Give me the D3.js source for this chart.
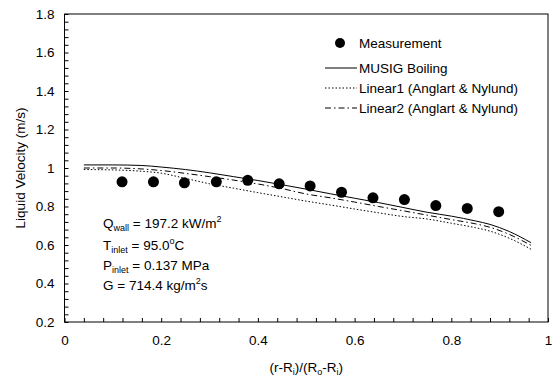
<!DOCTYPE html>
<html>
<head>
<meta charset="utf-8">
<script src="https://cdn.jsdelivr.net/npm/d3@7"></script>
<style>
  body { margin: 0; background: #fff; }
  svg { font-family: "Liberation Sans", Arial, sans-serif; }
</style>
</head>
<body>
<div id="chart"></div>
<script>
// Measurement points
const measX = [0.119, 0.184, 0.248, 0.314, 0.379, 0.444, 0.508, 0.573, 0.638, 0.703, 0.768, 0.833, 0.898];
const measY = [0.928, 0.928, 0.923, 0.928, 0.936, 0.918, 0.907, 0.874, 0.845, 0.836, 0.805, 0.79, 0.773];

// Model curves share the same radial positions
const curveX = [0.04, 0.10, 0.16, 0.20, 0.25, 0.30, 0.35, 0.40, 0.45, 0.50, 0.55, 0.60, 0.65, 0.70, 0.75, 0.80, 0.85, 0.88, 0.92, 0.965];
const musig   = [1.016, 1.016, 1.013, 1.005, 0.992, 0.975, 0.955, 0.935, 0.913, 0.89, 0.866, 0.843, 0.82, 0.795, 0.77, 0.75, 0.725, 0.707, 0.67, 0.612];
const linear1 = [0.992, 0.99, 0.983, 0.973, 0.946, 0.918, 0.895, 0.872, 0.85, 0.828, 0.808, 0.787, 0.767, 0.748, 0.735, 0.713, 0.69, 0.672, 0.635, 0.578];
const linear2 = [1.0, 1.0, 0.995, 0.987, 0.972, 0.955, 0.937, 0.917, 0.893, 0.865, 0.845, 0.823, 0.8, 0.778, 0.755, 0.732, 0.71, 0.692, 0.655, 0.598];

const legendLabels = ["Measurement", "MUSIG Boiling", "Linear1 (Anglart & Nylund)", "Linear2 (Anglart & Nylund)"];
const xTicks = [0, 0.2, 0.4, 0.6, 0.8, 1];
const yTicks = [0.2, 0.4, 0.6, 0.8, 1, 1.2, 1.4, 1.6, 1.8];

const W = 555, H = 376;
const margin = {top: 14, right: 7, bottom: 54, left: 64.5};
const fs = 13.5, small = 9;

const svg = d3.select("#chart").append("svg")
  .attr("width", W).attr("height", H);

const x = d3.scaleLinear().domain([0, 1]).range([margin.left, W - margin.right]);
const y = d3.scaleLinear().domain([0.2, 1.8]).range([H - margin.bottom, margin.top]);

// frame
svg.append("rect")
  .attr("x", x(0)).attr("y", y(1.8))
  .attr("width", x(1) - x(0)).attr("height", y(0.2) - y(1.8))
  .attr("fill", "none").attr("stroke", "#000").attr("stroke-width", 1);

// minor + major ticks, pointing inward
const minor = d3.range(0, 1.0001, 0.04);
svg.append("g")
  .attr("transform", "translate(0," + y(0.2) + ")")
  .call(d3.axisTop(x).tickValues(minor).tickSize(4).tickFormat(""))
  .call(g => g.select(".domain").remove());
svg.append("g")
  .attr("transform", "translate(0," + y(0.2) + ")")
  .call(d3.axisBottom(x).tickValues(xTicks).tickSize(0).tickPadding(13).tickFormat(d3.format("")))
  .call(g => g.select(".domain").remove())
  .selectAll("text").attr("font-size", fs).attr("font-family", "Liberation Sans, Arial");

const minorY = d3.range(0.2, 1.8001, 0.04);
svg.append("g")
  .attr("transform", "translate(" + x(0) + ",0)")
  .call(d3.axisRight(y).tickValues(minorY).tickSize(4).tickFormat(""))
  .call(g => g.select(".domain").remove());
svg.append("g")
  .attr("transform", "translate(" + x(0) + ",0)")
  .call(d3.axisLeft(y).tickValues(yTicks).tickSize(0).tickPadding(10).tickFormat(d3.format("")))
  .call(g => g.select(".domain").remove())
  .selectAll("text").attr("font-size", fs).attr("font-family", "Liberation Sans, Arial");

// curves
const line = d3.line().x(d => x(d[0])).y(d => y(d[1])).curve(d3.curveMonotoneX);
const series = [
  {vals: musig, dash: null},
  {vals: linear1, dash: "1.5,2"},
  {vals: linear2, dash: "6,3,1.5,3"}
];
series.forEach(s => {
  svg.append("path")
    .datum(curveX.map((v, i) => [v, s.vals[i]]))
    .attr("d", line)
    .attr("fill", "none")
    .attr("stroke", "#000")
    .attr("stroke-width", 1)
    .attr("stroke-dasharray", s.dash);
});

// measurement points
svg.selectAll("circle.meas")
  .data(measX.map((v, i) => [v, measY[i]]))
  .join("circle").attr("class", "meas")
  .attr("cx", d => x(d[0])).attr("cy", d => y(d[1]))
  .attr("r", 5.5).attr("fill", "#000");

// legend
const lg = svg.append("g").attr("font-size", fs);
const legY = [43, 68, 88, 108];
lg.append("circle").attr("cx", 340).attr("cy", legY[0]).attr("r", 5).attr("fill", "#000");
series.forEach((s, i) => {
  lg.append("line")
    .attr("x1", 325).attr("x2", 357)
    .attr("y1", legY[i + 1]).attr("y2", legY[i + 1])
    .attr("stroke", "#000").attr("stroke-dasharray", s.dash);
});
legendLabels.forEach((t, i) => {
  lg.append("text").attr("x", 359).attr("y", legY[i] + 5).text(t);
});

// annotation
const ann = svg.append("g").attr("font-size", fs);
const ax = 103;
let t = ann.append("text").attr("x", ax).attr("y", 228);
t.append("tspan").text("Q");
t.append("tspan").attr("font-size", small).attr("dy", 3).text("wall");
t.append("tspan").attr("dy", -3).text(" = 197.2 kW/m");
t.append("tspan").attr("font-size", small).attr("dy", -6).text("2");

t = ann.append("text").attr("x", ax).attr("y", 250);
t.append("tspan").text("T");
t.append("tspan").attr("font-size", small).attr("dy", 3).text("inlet");
t.append("tspan").attr("dy", -3).text(" = 95.0");
t.append("tspan").attr("font-size", small).attr("dy", -6).text("o");
t.append("tspan").attr("dy", 6).text("C");

t = ann.append("text").attr("x", ax).attr("y", 270);
t.append("tspan").text("P");
t.append("tspan").attr("font-size", small).attr("dy", 3).text("inlet");
t.append("tspan").attr("dy", -3).text(" = 0.137 MPa");

t = ann.append("text").attr("x", ax).attr("y", 290);
t.append("tspan").text("G = 714.4 kg/m");
t.append("tspan").attr("font-size", small).attr("dy", -6).text("2");
t.append("tspan").attr("dy", 6).text("s");

// axis titles
t = svg.append("text").attr("font-size", fs).attr("text-anchor", "middle")
  .attr("x", (x(0) + x(1)) / 2).attr("y", 372);
t.append("tspan").text("(r-R");
t.append("tspan").attr("font-size", small).attr("dy", 3).text("i");
t.append("tspan").attr("dy", -3).text(")/(R");
t.append("tspan").attr("font-size", small).attr("dy", 3).text("o");
t.append("tspan").attr("dy", -3).text("-R");
t.append("tspan").attr("font-size", small).attr("dy", 3).text("i");
t.append("tspan").attr("dy", -3).text(")");

svg.append("text").attr("font-size", fs).attr("text-anchor", "middle")
  .attr("transform", "translate(25," + (y(1.8) + y(0.2)) / 2 + ") rotate(-90)")
  .text("Liquid Velocity (m/s)");
</script>
</body>
</html>
